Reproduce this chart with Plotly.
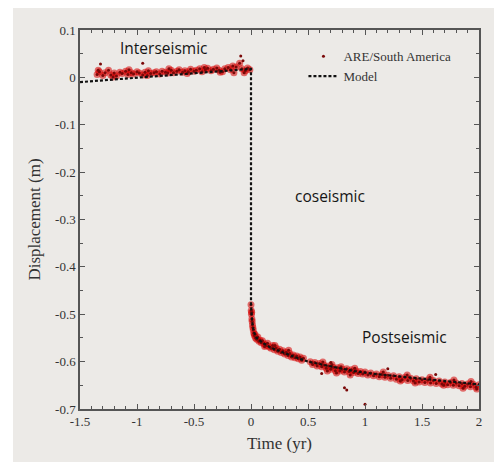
import plotly.graph_objects as go

# ---- data ----
inter_t = [-1.35,-1.33,-1.30,-1.28,-1.25,-1.23,-1.20,-1.18,-1.15,-1.13,
           -1.10,-1.08,-1.05,-1.03,-1.00,-0.98,-0.95,-0.93,-0.90,-0.88,
           -0.85,-0.83,-0.80,-0.78,-0.75,-0.73,-0.70,-0.68,-0.65,-0.63,
           -0.60,-0.58,-0.55,-0.53,-0.50,-0.48,-0.45,-0.43,-0.40,-0.38,
           -0.35,-0.33,-0.30,-0.28,-0.25,-0.23,-0.20,-0.18,-0.15,-0.13,
           -0.10,-0.08,-0.05,-0.03,-0.01]
inter_d = [0.006,0.012,0.004,0.010,0.015,0.005,0.009,0.003,0.011,0.008,
           0.013,0.006,0.010,0.007,0.012,0.009,0.005,0.011,0.014,0.008,
           0.010,0.012,0.007,0.013,0.011,0.009,0.015,0.010,0.013,0.016,
           0.011,0.014,0.012,0.017,0.013,0.015,0.018,0.012,0.016,0.019,
           0.014,0.017,0.020,0.015,0.012,0.018,0.021,0.016,0.010,0.022,
           0.030,0.018,0.014,0.020,0.016]

post_t = [0.000,0.002,0.004,0.006,0.008,0.010,0.013,0.016,0.020,0.025,
          0.030,0.035,0.040,0.050,0.060,0.070,0.080,0.090,0.100,0.115,
          0.130,0.145,0.160,0.175,0.190,0.205,0.220,0.235,0.250,0.265,
          0.280,0.295,0.310,0.325,0.340,0.355,0.370,0.385,0.400,0.415,
          0.430,0.445,0.460,0.520,0.540,0.560,0.580,0.600,0.620,0.640,
          0.660,0.680,0.700,0.720,0.740,0.760,0.780,0.800,0.820,0.840,
          0.860,0.880,0.900,0.920,0.940,0.960,0.980,1.000,1.025,1.050,
          1.075,1.100,1.125,1.150,1.175,1.200,1.225,1.250,1.275,1.300,
          1.325,1.350,1.375,1.400,1.425,1.450,1.475,1.500,1.525,1.550,
          1.575,1.600,1.625,1.650,1.675,1.700,1.725,1.750,1.775,1.800,
          1.825,1.850,1.875,1.900,1.925,1.950,1.975,2.000]
post_d = [-0.480,-0.492,-0.500,-0.496,-0.510,-0.515,-0.522,-0.528,-0.533,-0.540,
          -0.545,-0.542,-0.550,-0.553,-0.548,-0.557,-0.555,-0.560,-0.556,-0.563,
          -0.566,-0.561,-0.569,-0.572,-0.566,-0.575,-0.571,-0.578,-0.574,-0.581,
          -0.577,-0.584,-0.580,-0.587,-0.583,-0.590,-0.586,-0.592,-0.588,-0.594,
          -0.590,-0.597,-0.593,-0.600,-0.606,-0.602,-0.609,-0.604,-0.611,-0.607,
          -0.614,-0.609,-0.616,-0.612,-0.619,-0.613,-0.620,-0.616,-0.622,-0.615,
          -0.621,-0.617,-0.623,-0.619,-0.625,-0.621,-0.626,-0.622,-0.628,-0.624,
          -0.630,-0.626,-0.632,-0.627,-0.633,-0.629,-0.635,-0.630,-0.637,-0.632,
          -0.638,-0.633,-0.640,-0.635,-0.641,-0.636,-0.643,-0.638,-0.644,-0.639,
          -0.645,-0.640,-0.646,-0.641,-0.647,-0.643,-0.649,-0.644,-0.650,-0.645,
          -0.651,-0.646,-0.652,-0.647,-0.653,-0.648,-0.654,-0.649]

# extra scattered observations that thicken the band
extra_t = [-1.34, -1.21, -1.07, -0.91, -0.72, -0.56, -0.41, -0.27, -0.16, -0.06,
           0.12, 0.21, 0.33, 0.63, 0.67, 0.71, 0.75, 0.79, 0.87, 0.91,
           1.16, 1.31, 1.37, 1.44, 1.57, 1.69, 1.78, 1.86, 1.93, 1.98]
extra_d = [0.015, 0.001, 0.016, 0.004, 0.018, 0.008, 0.021, 0.011, 0.024, 0.010,
           -0.568, -0.566, -0.576, -0.601, -0.620, -0.606, -0.624, -0.611, -0.628, -0.614,
           -0.622, -0.641, -0.628, -0.645, -0.633, -0.650, -0.639, -0.656, -0.642, -0.658]

outlier_t = [-1.32, -0.95, -0.09, -0.07, 0.62, 0.70, 0.82, 0.84, 1.00, 1.20, 1.62]
outlier_d = [0.028, 0.030, 0.045, 0.035, -0.625, -0.602, -0.655, -0.660, -0.690, -0.615, -0.627]

model_t = [-1.5, 0.0, 0.0, 0.005, 0.01, 0.02, 0.03, 0.05, 0.10, 0.17, 0.27,
           0.38, 0.50, 0.70, 0.90, 1.05, 1.25, 1.45, 1.65, 1.85, 2.0]
model_d = [-0.010, 0.018, -0.480, -0.500, -0.515, -0.530, -0.540, -0.550, -0.560,
           -0.570, -0.580, -0.590, -0.600, -0.610, -0.620, -0.625, -0.630, -0.635,
           -0.640, -0.645, -0.648]

x_ticks = [-1.5, -1, -0.5, 0, 0.5, 1, 1.5, 2]
x_ticktext = ["-1.5", "-1", "-0.5", "0", "0.5", "1", "1.5", "2"]
y_ticks = [0.1, 0, -0.1, -0.2, -0.3, -0.4, -0.5, -0.6, -0.7]
y_ticktext = ["0.1", "0", "-0.1", "-0.2", "-0.3", "-0.4", "-0.5", "-0.6", "-0.7"]

series_name = "ARE/South America"
model_name = "Model"

band_t = inter_t + post_t + extra_t
band_d = inter_d + post_d + extra_d
all_t = band_t + outlier_t
all_d = band_d + outlier_d

BG = "#ECEAE7"
AX = "#555555"
SERIF = "Liberation Serif, Times New Roman, serif"
SANS = "Open Sans, Noto Sans, sans-serif"

fig = go.Figure()
# bright red blur around the observations
fig.add_trace(go.Scatter(x=band_t, y=band_d, mode="markers", showlegend=False,
                         hoverinfo="skip",
                         marker=dict(size=7, color="rgba(215,0,0,0.55)", line=dict(width=0))))
# dark red cores (legend entry)
fig.add_trace(go.Scatter(x=all_t, y=all_d, mode="markers", name=series_name,
                         marker=dict(size=3, color="#7A0808", line=dict(width=0))))
fig.add_trace(go.Scatter(x=model_t, y=model_d, mode="lines", name=model_name,
                         line=dict(color="#111111", width=2.2, dash="3px,2px")))

axis_common = dict(
    showline=True, linecolor=AX, linewidth=1.5, mirror="ticks",
    ticks="inside", ticklen=5, tickwidth=1.2, tickcolor=AX,
    showgrid=False, zeroline=False,
    tickfont=dict(family=SERIF, size=13, color="#333333"),
)

fig.update_xaxes(range=[-1.5, 2], tickvals=x_ticks, ticktext=x_ticktext,
                 minor=dict(ticks="inside", dtick=0.1, tick0=-1.5, ticklen=3, tickcolor=AX),
                 title=dict(text="Time (yr)", font=dict(family=SERIF, size=17, color="#333333"),
                            standoff=9),
                 **axis_common)
fig.update_yaxes(range=[-0.7, 0.1], tickvals=y_ticks, ticktext=y_ticktext,
                 minor=dict(ticks="inside", dtick=0.05, tick0=0, ticklen=3, tickcolor=AX),
                 title=dict(text="Displacement (m)", font=dict(family=SERIF, size=17, color="#333333"),
                            standoff=10),
                 **axis_common)

ann_font = dict(family=SANS, size=15.5, color="#151515")
fig.add_annotation(x=-0.77, y=0.062, text="Interseismic", showarrow=False, font=ann_font)
fig.add_annotation(x=0.69, y=-0.251, text="coseismic", showarrow=False, font=ann_font)
fig.add_annotation(x=1.35, y=-0.547, text="Postseismic", showarrow=False, font=ann_font)

fig.update_layout(
    width=494, height=454,
    margin=dict(l=72, r=23, t=22, b=51),
    paper_bgcolor=BG, plot_bgcolor=BG,
    showlegend=True,
    legend=dict(x=0.56, y=0.97, xanchor="left", yanchor="top",
                bgcolor="rgba(0,0,0,0)", borderwidth=0,
                font=dict(family=SERIF, size=13, color="#333333"),
                itemwidth=30, tracegroupgap=0),
    shapes=[
        dict(type="rect", xref="paper", yref="paper", x0=-0.25, x1=-0.168, y0=-0.2, y1=1.2,
             fillcolor="white", line=dict(width=0), layer="below"),
    ],
)

fig.write_html("out.html")
